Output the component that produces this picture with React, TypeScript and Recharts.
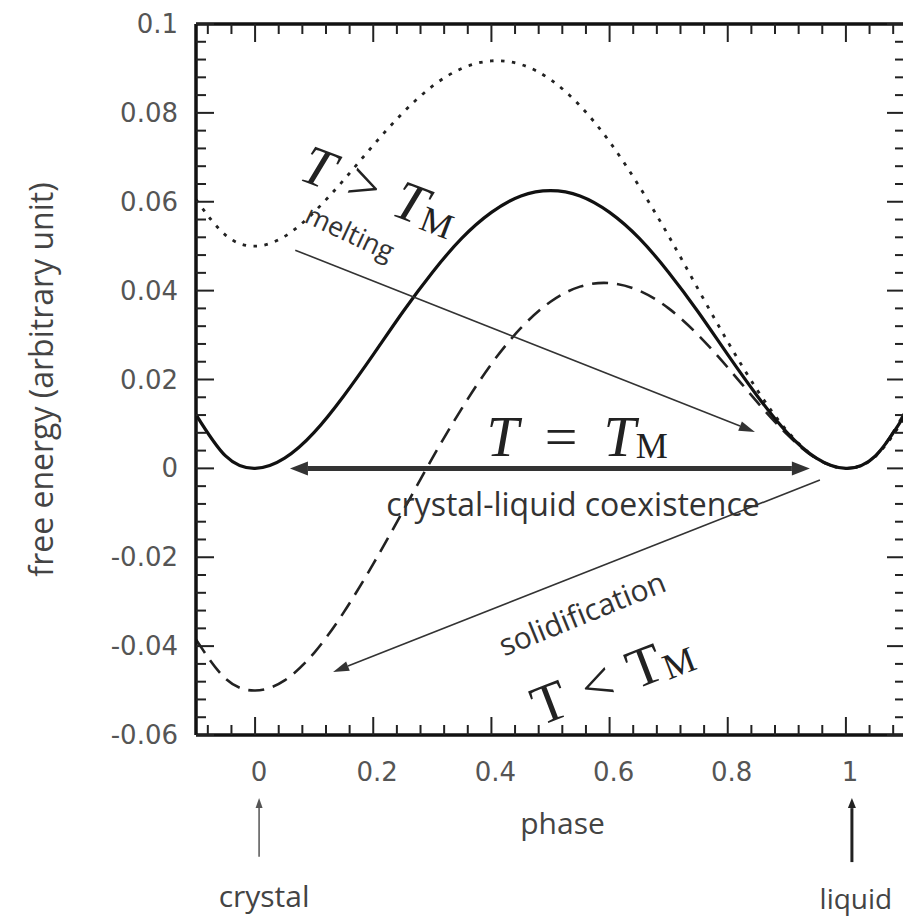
import React from 'react';
import { LineChart, Line, XAxis, YAxis, ReferenceLine, ReferenceDot } from 'recharts';

// ---- data ----
const phase = [-0.1, -0.05, 0, 0.05, 0.1, 0.15, 0.2, 0.25, 0.3, 0.35, 0.4, 0.45, 0.5, 0.55, 0.6, 0.65, 0.7, 0.75, 0.8, 0.85, 0.9, 0.95, 1, 1.05, 1.1];
const atMelting = [0.0121, 0.0028, 0, 0.0023, 0.0081, 0.0163, 0.0256, 0.0352, 0.0441, 0.0518, 0.0576, 0.0613, 0.0625, 0.0613, 0.0576, 0.0518, 0.0441, 0.0352, 0.0256, 0.0163, 0.0081, 0.0023, 0, 0.0028, 0.0121];
const aboveMelting = [0.0605, 0.0525, 0.05, 0.0522, 0.0577, 0.0649, 0.0727, 0.08, 0.086, 0.09, 0.0917, 0.0909, 0.0875, 0.0816, 0.0735, 0.0635, 0.0523, 0.0403, 0.0285, 0.0176, 0.0085, 0.0023, 0, 0.0027, 0.0115];
const belowMelting = [-0.0385, -0.0473, -0.05, -0.0477, -0.0415, -0.0324, -0.0215, -0.0097, 0.0023, 0.0135, 0.0235, 0.0316, 0.0375, 0.0409, 0.0417, 0.04, 0.036, 0.03, 0.0227, 0.0149, 0.0077, 0.0022, 0, 0.0028, 0.0127];

const xDomain = [-0.1, 1.1];
const yDomain = [-0.06, 0.1];
const xMajorStep = 0.2;
const yMajorStep = 0.02;
const xMinorStep = 0.04;
const yMinorStep = 0.004;

const r4 = (v: number) => Math.round(v * 10000) / 10000;
const xTicks: number[] = [];
for (let i = 0; r4(-0.08 + i * xMinorStep) <= 1.08; i++) xTicks.push(r4(-0.08 + i * xMinorStep));
const yTicks: number[] = [];
for (let i = 0; r4(yDomain[0] + i * yMinorStep) <= yDomain[1]; i++) yTicks.push(r4(yDomain[0] + i * yMinorStep));

const data = phase.map((x, i) => ({ x, solid: atMelting[i], hot: aboveMelting[i], cold: belowMelting[i] }));

const isMajor = (v: number, step: number) => Math.abs(v / step - Math.round(v / step)) < 1e-6;
const fmt = (v: number) => String(Math.round(v * 1000) / 1000);

const MAJOR = 18;
const MINOR = 10;
const TICK_COLOR = '#222';
const LABEL_FONT = '"DejaVu Sans", sans-serif';
const SANS = '"Open Sans", sans-serif';
const SERIF = '"Liberation Serif", serif';

const BottomTick = (p: any) => {
  const v = p.payload.value;
  const m = isMajor(v, xMajorStep);
  return (
    <g>
      <line x1={p.x} x2={p.x} y1={p.y} y2={p.y - (m ? MAJOR : MINOR)} stroke={TICK_COLOR} strokeWidth={2} />
      {m && (
        <text x={p.x + 4} y={p.y + 37} textAnchor="middle" dominantBaseline="central" fontFamily={LABEL_FONT} fontSize={26} fill="#555">
          {fmt(v)}
        </text>
      )}
    </g>
  );
};
const TopTick = (p: any) => {
  const m = isMajor(p.payload.value, xMajorStep);
  return <line x1={p.x} x2={p.x} y1={p.y} y2={p.y + (m ? MAJOR : MINOR)} stroke={TICK_COLOR} strokeWidth={2} />;
};
const LeftTick = (p: any) => {
  const v = p.payload.value;
  const m = isMajor(v, yMajorStep);
  return (
    <g>
      <line x1={p.x} x2={p.x + (m ? MAJOR : MINOR)} y1={p.y} y2={p.y} stroke={TICK_COLOR} strokeWidth={2} />
      {m && (
        <text x={p.x - 18} y={p.y} textAnchor="end" dominantBaseline="central" fontFamily={LABEL_FONT} fontSize={26} fill="#555">
          {fmt(v)}
        </text>
      )}
    </g>
  );
};
const RightTick = (p: any) => {
  const m = isMajor(p.payload.value, yMajorStep);
  return <line x1={p.x} x2={p.x - (m ? MAJOR : MINOR)} y1={p.y} y2={p.y} stroke={TICK_COLOR} strokeWidth={2} />;
};

function headPoints(xa: number, ya: number, xb: number, yb: number, len: number, half: number) {
  const dx = xb - xa, dy = yb - ya;
  const L = Math.hypot(dx, dy) || 1;
  const ux = dx / L, uy = dy / L;
  const bx = xb - ux * len, by = yb - uy * len;
  return {
    pts: `${xb},${yb} ${bx - uy * half},${by + ux * half} ${bx + uy * half},${by - ux * half}`,
    bx, by,
  };
}

const arrowShape = (color: string, width: number, len: number, half: number, both = false, dx = 0) => (p: any) => {
  const x1 = p.x1 + dx, x2 = p.x2 + dx, y1 = p.y1, y2 = p.y2;
  const h2 = headPoints(x1, y1, x2, y2, len, half);
  const h1 = headPoints(x2, y2, x1, y1, len, half);
  const sx = both ? h1.bx : x1, sy = both ? h1.by : y1;
  return (
    <g>
      <line x1={sx} y1={sy} x2={h2.bx} y2={h2.by} stroke={color} strokeWidth={width} />
      <polygon points={h2.pts} fill={color} />
      {both && <polygon points={h1.pts} fill={color} />}
    </g>
  );
};

const textShape = (content: React.ReactNode, o: { size: number; font: string; rotate?: number; italic?: boolean; fill?: string; dx?: number; dy?: number }) => (p: any) => {
  const cx = p.cx + (o.dx || 0);
  const cy = p.cy + (o.dy || 0);
  return (
    <text
      x={cx}
      y={cy}
      textAnchor="middle"
      dominantBaseline="central"
      fontFamily={o.font}
      fontSize={o.size}
      fontStyle={o.italic ? 'italic' : 'normal'}
      fill={o.fill || '#222'}
      transform={o.rotate ? `rotate(${o.rotate} ${cx} ${cy})` : undefined}
    >
      {content}
    </text>
  );
};

const mathRel = (rel: string, gap = 18) => (
  <>
    <tspan>T</tspan>
    <tspan dx={gap} fontStyle="normal">{rel}</tspan>
    <tspan dx={gap}>T</tspan>
    <tspan fontStyle="normal" fontSize={36} dy={10}>M</tspan>
  </>
);

export default function App() {
  return (
    <LineChart width={903} height={908} data={data} margin={{ top: 15, right: 5, bottom: 180, left: 187 }}>
      <XAxis
        xAxisId={0}
        dataKey="x"
        type="number"
        domain={xDomain}
        allowDataOverflow
        ticks={xTicks}
        interval={0}
        height={1}
        tickSize={0}
        tickMargin={0}
        tickLine={false}
        tick={<BottomTick />}
        axisLine={{ stroke: '#111', strokeWidth: 3.5 }}
      />
      <XAxis
        xAxisId="top"
        orientation="top"
        dataKey="x"
        type="number"
        domain={xDomain}
        allowDataOverflow
        ticks={xTicks}
        interval={0}
        height={1}
        tickSize={0}
        tickMargin={0}
        tickLine={false}
        tick={<TopTick />}
        axisLine={{ stroke: '#111', strokeWidth: 3.5 }}
      />
      <YAxis
        yAxisId={0}
        type="number"
        domain={yDomain}
        allowDataOverflow
        ticks={yTicks}
        interval={0}
        width={1}
        tickSize={0}
        tickMargin={0}
        tickLine={false}
        tick={<LeftTick />}
        axisLine={{ stroke: '#111', strokeWidth: 3.5 }}
      />
      <YAxis
        yAxisId="right"
        orientation="right"
        type="number"
        domain={yDomain}
        allowDataOverflow
        ticks={yTicks}
        interval={0}
        width={1}
        tickSize={0}
        tickMargin={0}
        tickLine={false}
        tick={<RightTick />}
        axisLine={{ stroke: '#111', strokeWidth: 3.5 }}
      />

      <Line dataKey="hot" type="natural" stroke="#222" strokeWidth={2.8} strokeDasharray="3.5 7.5" dot={false} isAnimationActive={false} />
      <Line dataKey="cold" type="natural" stroke="#222" strokeWidth={2.6} strokeDasharray="16 9" dot={false} isAnimationActive={false} />
      <Line dataKey="solid" type="natural" stroke="#111" strokeWidth={3.2} dot={false} isAnimationActive={false} />

      {/* arrows */}
      <ReferenceLine segment={[{ x: 0.068, y: 0.0491 }, { x: 0.846, y: 0.0082 }]} ifOverflow="visible" shape={arrowShape('#333', 1.6, 16, 5)} />
      <ReferenceLine segment={[{ x: 0.059, y: 0 }, { x: 0.939, y: 0 }]} ifOverflow="visible" shape={arrowShape('#333', 5, 18, 7, true)} />
      <ReferenceLine segment={[{ x: 0.956, y: -0.0026 }, { x: 0.132, y: -0.0458 }]} ifOverflow="visible" shape={arrowShape('#333', 1.6, 16, 5)} />
      <ReferenceLine segment={[{ x: 0, y: -0.0874 }, { x: 0, y: -0.0742 }]} ifOverflow="visible" shape={arrowShape('#555', 1.5, 10, 3.5, false, 4)} />
      <ReferenceLine segment={[{ x: 1, y: -0.0886 }, { x: 1, y: -0.0742 }]} ifOverflow="visible" shape={arrowShape('#222', 3, 10, 4, false, 6)} />

      {/* text annotations */}
      <ReferenceDot x={0.211} y={0.0626} ifOverflow="visible" shape={textShape(mathRel('>'), { size: 56, font: SERIF, italic: true, rotate: 21 })} />
      <ReferenceDot x={0.161} y={0.0532} ifOverflow="visible" shape={textShape('melting', { size: 27, font: SANS, rotate: 25, fill: '#333' })} />
      <ReferenceDot x={0.545} y={0.0072} ifOverflow="visible" shape={textShape(mathRel('=', 26), { size: 58, font: SERIF, italic: true })} />
      <ReferenceDot x={0.538} y={-0.0078} ifOverflow="visible" shape={textShape('crystal-liquid coexistence', { size: 32, font: SANS, fill: '#333' })} />
      <ReferenceDot x={0.553} y={-0.0325} ifOverflow="visible" shape={textShape('solidification', { size: 30, font: SANS, rotate: -22, fill: '#333' })} />
      <ReferenceDot x={0.604} y={-0.0472} ifOverflow="visible" shape={textShape(mathRel('<'), { size: 56, font: SERIF, rotate: -21 })} />

      {/* axis titles and end labels */}
      <ReferenceDot x={0.5} y={-0.0796} ifOverflow="visible" shape={textShape('phase', { size: 30, font: SANS, fill: '#444', dx: 12 })} />
      <ReferenceDot x={-0.1} y={0.02} ifOverflow="visible" shape={textShape('free energy (arbitrary unit)', { size: 32, font: SANS, rotate: -90, fill: '#444', dx: -156 })} />
      <ReferenceDot x={0} y={-0.0962} ifOverflow="visible" shape={textShape('crystal', { size: 30, font: SANS, fill: '#444', dx: 9 })} />
      <ReferenceDot x={1} y={-0.0966} ifOverflow="visible" shape={textShape('liquid', { size: 28, font: SANS, fill: '#444', dx: 10 })} />
    </LineChart>
  );
}
